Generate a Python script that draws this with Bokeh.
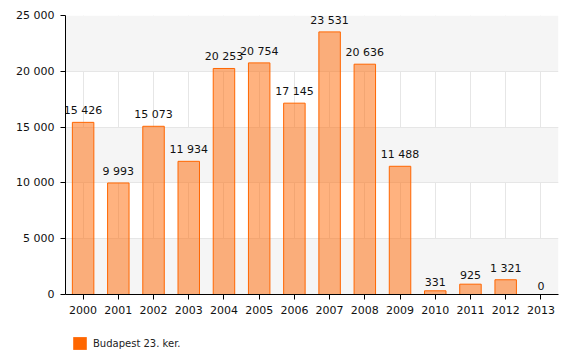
from bokeh.plotting import figure
from bokeh.layouts import column
from bokeh.models import (ColumnDataSource, FixedTicker, CustomJSTickFormatter,
                          Legend, LegendItem)
from bokeh.core.properties import value
from bokeh.embed import file_html
from bokeh.resources import INLINE

years = ["2000", "2001", "2002", "2003", "2004", "2005", "2006",
         "2007", "2008", "2009", "2010", "2011", "2012", "2013"]
values = [15426, 9993, 15073, 11934, 20253, 20754, 17145,
          23531, 20636, 11488, 331, 925, 1321, 0]
series_name = "Budapest 23. ker."
y_ticks = [0, 5000, 10000, 15000, 20000, 25000]


def fmt(v):
    return f"{v:,}".replace(",", " ")


labels = [fmt(v) for v in values]
src = ColumnDataSource(dict(x=years, top=values, label=labels))

p = figure(x_range=years, y_range=(0, 25000), width=571, height=320,
           output_backend="svg", toolbar_location=None,
           min_border_left=65, min_border_right=13, min_border_top=15,
           min_border_bottom=26)
p.x_range.range_padding = 0
p.outline_line_color = None
p.background_fill_color = "white"

bars = p.vbar(x="x", top="top", width=0.61, source=src,
              fill_color="#ff6600", fill_alpha=0.5,
              line_color="#ff6600", line_width=1)

p.text(x="x", y="top", text="label", source=src, text_align="center",
       text_baseline="bottom", y_offset=-5, text_font=value("DejaVu Sans"),
       text_font_size="11px", text_color="#111111")

# axes
for ax in (p.xaxis, p.yaxis):
    ax.axis_line_color = "black"
    ax.major_tick_line_color = "black"
    ax.major_tick_out = 5
    ax.major_tick_in = 0
    ax.minor_tick_line_color = None
    ax.major_label_text_font = "DejaVu Sans"
    ax.major_label_text_font_size = "11px"
    ax.major_label_text_color = "#111111"
    ax.major_label_standoff = 6

p.yaxis.ticker = FixedTicker(ticks=y_ticks)
p.yaxis.formatter = CustomJSTickFormatter(
    code="return tick.toString().replace(/\\B(?=(\\d{3})+(?!\\d))/g, ' ');")

# repeated first tick shifts the alternating bands so they start at 0
p.ygrid.ticker = FixedTicker(ticks=[y_ticks[0]] + y_ticks)
p.ygrid.grid_line_color = "#e6e6e6"
p.ygrid.band_fill_color = "#f5f5f5"
p.ygrid.band_fill_alpha = 1
p.xgrid.grid_line_color = "#e6e6e6"

# legend strip below the chart (its bars lie far outside its visible range)
lf = figure(x_range=years, y_range=(1e6, 1e6 + 1), width=571, height=36,
            output_backend="svg", toolbar_location=None,
            x_axis_type=None, y_axis_type=None,
            min_border_left=0, min_border_right=0, min_border_top=0,
            min_border_bottom=0)
lf.outline_line_color = None
lf.grid.visible = False
swatch = lf.vbar(x="x", top="top", width=0.61, source=src,
                 fill_color="#ff6600", fill_alpha=1, line_alpha=0)
legend = Legend(items=[LegendItem(label=series_name, renderers=[swatch])],
                location=(6, 5), padding=0, margin=0,
                glyph_width=17, glyph_height=16, label_height=16,
                label_standoff=5, label_text_font="DejaVu Sans",
                label_text_font_size="10px", label_text_color="#222222",
                border_line_color=None, background_fill_alpha=0)
lf.add_layout(legend, "center")

open("out.html", "w").write(file_html(column(p, lf), INLINE))
